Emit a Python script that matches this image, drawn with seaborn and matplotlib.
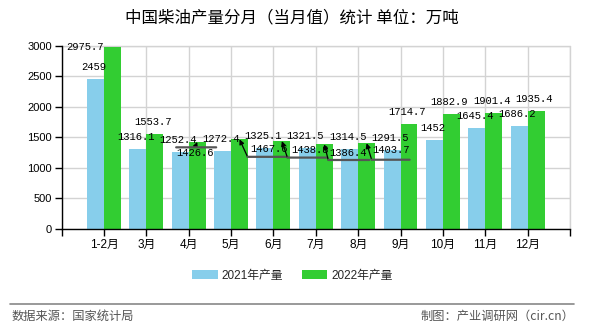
import matplotlib
matplotlib.use("Agg")
import matplotlib.pyplot as plt
import matplotlib.transforms as mtransforms
from matplotlib.lines import Line2D
from matplotlib.patches import Patch
import pandas as pd
import seaborn as sns

months = ["1-2月", "3月", "4月", "5月", "6月", "7月", "8月", "9月", "10月", "11月", "12月"]
output_2021 = [2459, 1316.1, 1252.4, 1272.4, 1325.1, 1321.5, 1314.5, 1291.5, 1452, 1645.4, 1686.2]
output_2022 = [2975.7, 1553.7, 1426.6, 1467.6, 1438.8, 1386.4, 1403.7, 1714.7, 1882.9, 1901.4, 1935.4]
series_names = ["2021年产量", "2022年产量"]
y_ticks = [0, 500, 1000, 1500, 2000, 2500, 3000]

colors = {"2021年产量": "#87CEEB", "2022年产量": "#32CD32"}

df = pd.DataFrame({
    "月份": months * 2,
    "产量": output_2021 + output_2022,
    "系列": [series_names[0]] * len(months) + [series_names[1]] * len(months),
})

sns.set_theme(style="white")
plt.rcParams["font.family"] = ["Liberation Sans", "Noto Sans CJK SC"]

fig = plt.figure(figsize=(5.9, 3.3), dpi=100)
ax = fig.add_axes([61.6 / 590, 1 - 229 / 330, (570 - 61.6) / 590, (229 - 45.7) / 330])

sns.barplot(data=df, x="月份", y="产量", hue="系列", palette=colors,
            width=0.8, gap=0, saturation=1, ax=ax, legend=False, zorder=2,
            linewidth=0, edgecolor="none")

ax.set_xlim(-1, len(months))
ax.set_ylim(0, 3000)
ax.set_yticks(y_ticks)
ax.set_yticklabels([str(t) for t in y_ticks], fontsize=8)
ax.set_xticks(range(-1, len(months) + 1))
ax.set_xticklabels([""] + months + [""], fontsize=8.5)
ax.set_xlabel("")
ax.set_ylabel("")

ax.grid(True, color="#d3d3d3", lw=1, zorder=0)
ax.set_axisbelow(True)
for side in ("top", "right"):
    ax.spines[side].set_visible(False)
for side in ("left", "bottom"):
    ax.spines[side].set_color("black")
    ax.spines[side].set_linewidth(1)
ax.tick_params(axis="both", which="both", direction="out", length=5, width=1,
               color="black", labelcolor="black", pad=2, bottom=True, left=True)

# the 3000 line doubles as the top edge of the frame
ax.axhline(3000, color="#d3d3d3", lw=1, zorder=0, clip_on=False)
ax.axvline(len(months), color="#d3d3d3", lw=1, zorder=0, clip_on=False)

label_font = dict(family=["Liberation Mono"], size=7.6, color="black")

# per-label shifts (pixels) where the default spot above the bar is crowded
text_shift = {
    (1, 0): (-27, 0),
    (1, 2): (-2, -11),
    (1, 3): (30, -10),
    (1, 4): (28, -9),
    (1, 5): (24, -8.5),
    (1, 6): (24, -7),
}
# leader lines: (bend point, end of the horizontal run), pixels from the bar top
leaders = {
    (1, 2): ((-2, -5.5), [(-21, -5.5), (19, -5.5)]),
    (1, 3): ((8, -17.5), [(8, -17.5), (48, -17.5)]),
    (1, 4): ((5.5, -16.5), [(5.5, -16.5), (45.5, -16.5)]),
    (1, 5): ((4, -15.7), [(4, -15.7), (45, -15.7)]),
    (1, 6): ((5, -16.5), [(5, -16.5), (43, -16.5)]),
}


def segment(x, v, p0, p1, arrow):
    tr = mtransforms.offset_copy(ax.transData, fig=fig, x=p1[0], y=p1[1], units="dots")
    props = dict(shrinkA=0, shrinkB=0)
    if arrow:
        props.update(arrowstyle="-|>", color="black", lw=0.9, mutation_scale=7)
    else:
        props.update(arrowstyle="-", color="#555555", lw=1.6)
    ax.annotate("", xy=(x, v), xycoords=tr,
                xytext=(p0[0] - p1[0], p0[1] - p1[1]), textcoords="offset pixels",
                arrowprops=props, zorder=4, annotation_clip=False)


for si, (container, values) in enumerate(zip(ax.containers, [output_2021, output_2022])):
    for i, (bar, v) in enumerate(zip(container.patches, values)):
        x = bar.get_x() + bar.get_width() / 2
        dx, dy = text_shift.get((si, i), (-2, 12))
        txt = f"{v:g}"
        ax.annotate(txt, xy=(x, v), xytext=(dx, dy), textcoords="offset pixels",
                    ha="center", va="center", zorder=5, annotation_clip=False, **label_font)
        if (si, i) in leaders:
            bend, run = leaders[(si, i)]
            segment(x, v, bend, (0, 0), arrow=True)
            segment(x, v, run[0], run[1], arrow=False)

fig.text(0.494, 1 - 18 / 330, "中国柴油产量分月（当月值）统计 单位：万吨",
         ha="center", va="center", fontsize=11.9,
         family=["Noto Sans CJK SC", "DejaVu Sans"], color="black")

handles = [Patch(facecolor=colors[n], edgecolor="none", label=n) for n in series_names]
fig.legend(handles=handles, loc="center", bbox_to_anchor=(292 / 590, 1 - 276 / 330),
           ncol=2, frameon=False, fontsize=8.5, handlelength=2.2, handleheight=0.8,
           handletextpad=0.3, columnspacing=1.6)

fig.add_artist(Line2D([10 / 590, 574 / 590], [1 - 303.5 / 330] * 2,
                      color="#888888", lw=1.2))
fig.text(12 / 590, 1 - 316 / 330, "数据来源：国家统计局", ha="left", va="center",
         fontsize=8.8, color="#555555", family=["Noto Sans CJK SC", "DejaVu Sans"])
fig.text(574 / 590, 1 - 316 / 330, "制图：产业调研网（cir.cn）", ha="right", va="center",
         fontsize=8.8, color="#555555", family=["Noto Sans CJK SC", "DejaVu Sans"])

fig.savefig("out.png", dpi=100)
